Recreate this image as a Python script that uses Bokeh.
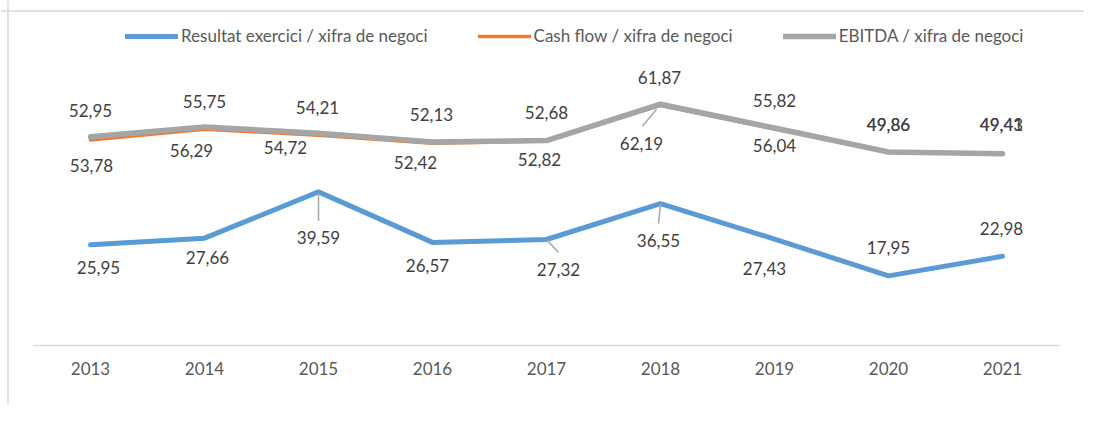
from bokeh.plotting import figure
from bokeh.models import ColumnDataSource, Legend, LegendItem, FixedTicker, Range1d, Span
from bokeh.core.properties import value
from bokeh.embed import file_html
from bokeh.resources import INLINE

# ---- data ----
years = ["2013", "2014", "2015", "2016", "2017", "2018", "2019", "2020", "2021"]
resultat = [25.95, 27.66, 39.59, 26.57, 27.32, 36.55, 27.43, 17.95, 22.98]
cash_flow = [52.95, 55.75, 54.21, 52.13, 52.68, 61.87, 55.82, 49.86, 49.41]
ebitda = [53.78, 56.29, 54.72, 52.42, 52.82, 62.19, 56.04, 49.86, 49.43]
series_names = ["Resultat exercici / xifra de negoci",
                "Cash flow / xifra de negoci",
                "EBITDA / xifra de negoci"]

# ---- styles / label placement (screen px) ----
colors = ["#5B9BD5", "#ED7D31", "#A5A5A5"]
widths = [5, 3.5, 5.5]
re_dx = [8, 3, 0, -5, 12, -2, -10, 0, -1]
re_dy = [23, 19, 46, 23, 30, 37, 29, -28, -28]
cf_dx = [0, 0, -1, -1, 0, -1, 0, 0, -1]
cf_dy = [-30, -28, -28, -29, -29, -28, -28, -28, -29]
eb_dx = [1, -13, -33, -17, -7, -19, 0, 0, -1]
eb_dy = [29, 23, 14, 20, 19, 39, 17, -28, -29]
# leader lines: (series, index, dx0, dy0, dx1, dy1) in px relative to point
leaders = [(0, 2, 0, 1, 0, 29), (0, 5, 0, 0, -2, 20), (0, 4, 0, 0, 12, 13),
           (2, 5, -4, 5, -18, 22)]

FONT = "Lato"
FS = "17px"
W, H = 1084, 405
band = 114.0          # px per category
ppu = 3.88            # px per value unit
left_pad = 33         # px from canvas left to first category band
zero_px = 345         # canvas y of value 0
n = len(years)
xs = list(range(n))
x_start = -0.5 - left_pad / band
x_end = x_start + W / band
y_end = zero_px / ppu
y_start = y_end - H / ppu

p = figure(width=W, height=H, output_backend="svg", toolbar_location=None,
           x_range=Range1d(x_start, x_end), y_range=Range1d(y_start, y_end),
           y_axis_location=None,
           min_border_left=0, min_border_right=0, min_border_top=0, min_border_bottom=0,
           background_fill_color="white", border_fill_color="white")
p.outline_line_color = None
p.xgrid.grid_line_color = None
p.ygrid.grid_line_color = None

# chart-area border (top and left)
p.add_layout(Span(location=x_start + 7.5 / band, dimension="height",
                  line_color="#d9d9d9", line_width=1.5))
p.add_layout(Span(location=y_end - 10.5 / ppu, dimension="width",
                  line_color="#d9d9d9", line_width=1.5))

# category axis baseline
p.segment([-0.5], [0], [n - 0.5], [0], line_color="#d9d9d9", line_width=1.5)

ax = p.xaxis[0]
ax.fixed_location = 0
ax.ticker = FixedTicker(ticks=xs)
ax.major_label_overrides = {i: y for i, y in enumerate(years)}
ax.axis_line_color = None
ax.major_tick_line_color = None
ax.minor_tick_line_color = None
ax.major_label_standoff = 10
ax.major_label_text_font = FONT
ax.major_label_text_font_size = FS
ax.major_label_text_color = "#595959"

all_vals = [resultat, cash_flow, ebitda]
renderers = []
for vals, c, w in zip(all_vals, colors, widths):
    r = p.line(xs, vals, line_color=c, line_width=w, line_join="round", line_cap="round")
    renderers.append(r)

# leader lines
lx0, ly0, lx1, ly1 = [], [], [], []
for s, i, dx0, dy0, dx1, dy1 in leaders:
    v = all_vals[s][i]
    lx0.append(xs[i] + dx0 / band); ly0.append(v - dy0 / ppu)
    lx1.append(xs[i] + dx1 / band); ly1.append(v - dy1 / ppu)
p.segment(lx0, ly0, lx1, ly1, line_color="#a6a6a6", line_width=1.5)

def fmt(v):
    return f"{v:.2f}".replace(".", ",")

for vals, dx, dy in [(resultat, re_dx, re_dy), (cash_flow, cf_dx, cf_dy), (ebitda, eb_dx, eb_dy)]:
    src = ColumnDataSource(dict(x=xs, y=vals, t=[fmt(v) for v in vals], dx=dx, dy=dy))
    p.text(x="x", y="y", text="t", x_offset="dx", y_offset="dy", source=src,
           text_font=value(FONT), text_font_size=FS, text_color="#404040",
           text_align="center", text_baseline="middle")

legend = Legend(items=[LegendItem(label=nm, renderers=[r]) for nm, r in zip(series_names, renderers)],
                orientation="horizontal", location=(125, H - 46), padding=0, margin=0,
                spacing=50, label_standoff=3, glyph_width=53, glyph_height=20, label_height=20,
                label_text_font=FONT, label_text_font_size=FS, label_text_color="#595959",
                border_line_color=None, background_fill_alpha=0)
p.add_layout(legend, "center")

open("out.html", "w").write(file_html(p, INLINE))
